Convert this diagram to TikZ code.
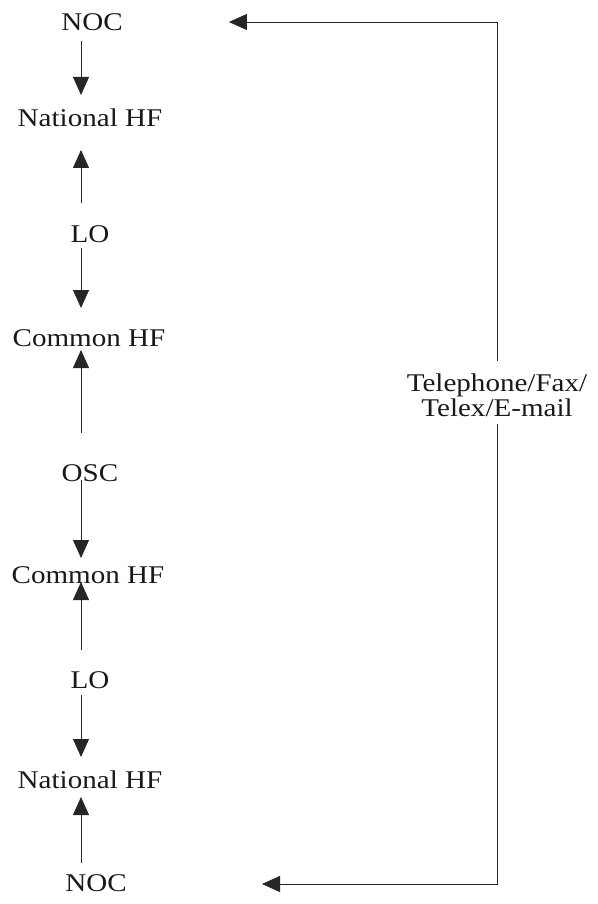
\documentclass[tikz,border=0pt]{standalone}
\usepackage{fontspec}
\setmainfont{Liberation Serif}
\newfontfamily\lblfont[FakeStretch=1.14]{Liberation Serif}
\usetikzlibrary{arrows.meta}
\begin{document}
\begin{tikzpicture}[x=1pt,y=-1pt,
  lbl/.style={font=\lblfont\fontsize{25.5}{29}\selectfont, inner sep=0pt, text=black!90},
  arr/.style={line width=0.8pt, draw=black!85, -{Triangle[length=18pt,width=16pt]}}]
\useasboundingbox (0,0) rectangle (597,904);
% left column of stations
\node[lbl] (noc1) at (92,22) {NOC};
\node[lbl] (nhf1) at (90,118) {National HF};
\node[lbl] (lo1)  at (90,234) {LO};
\node[lbl] (chf1) at (89,338) {Common HF};
\node[lbl] (osc)  at (90,473) {OSC};
\node[lbl] (chf2) at (88,575) {Common HF};
\node[lbl] (lo2)  at (90,680) {LO};
\node[lbl] (nhf2) at (90,780) {National HF};
\node[lbl] (noc2) at (96,883) {NOC};
\coordinate (ax) at (81,0);
% vertical arrows between stations
\draw[arr, shorten <=19pt, shorten >=23pt] (noc1 -| ax) -- (nhf1 -| ax);
\draw[arr, shorten <=31pt, shorten >=32pt] (lo1 -| ax) -- (nhf1 -| ax);
\draw[arr, shorten <=14pt, shorten >=30pt] (lo1 -| ax) -- (chf1 -| ax);
\draw[arr, shorten <=40pt, shorten >=12pt] (osc -| ax) -- (chf1 -| ax);
\draw[arr, shorten <=7pt, shorten >=17pt] (osc -| ax) -- (chf2 -| ax);
\draw[arr, shorten <=30pt, shorten >=7pt] (lo2 -| ax) -- (chf2 -| ax);
\draw[arr, shorten <=15pt, shorten >=23pt] (lo2 -| ax) -- (nhf2 -| ax);
\draw[arr, shorten <=20pt, shorten >=17pt] (noc2 -| ax) -- (nhf2 -| ax);
% communication link on the right
\node[lbl, align=center, inner ysep=12pt, inner xsep=2pt] (tel) at (497,395)
  {Telephone/Fax/\\[-4pt]Telex/E-mail};
\draw[arr, shorten >=106pt] (tel.north) |- (noc1);
\draw[arr, shorten >=166pt] ([yshift=5pt]tel.south) |- ([yshift=-1pt]noc2.center);
\end{tikzpicture}
\end{document}
